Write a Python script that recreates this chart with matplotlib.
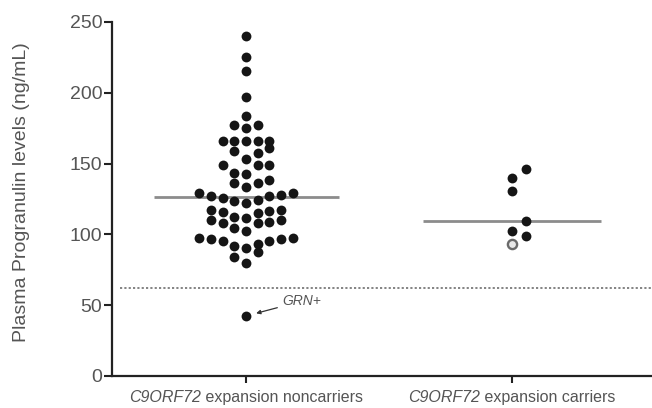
import numpy as np
import matplotlib
matplotlib.use('Agg')
import matplotlib.pyplot as plt
from matplotlib.offsetbox import TextArea, HPacker, AnnotationBbox

plt.rcParams['font.family'] = 'Liberation Sans'

# (italic gene name, rest of label)
group_labels = [('C9ORF72', ' expansion noncarriers'),
                ('C9ORF72', ' expansion carriers')]

# plasma progranulin, ng/mL
noncarriers = [42.4,
               80.0, 84.2, 87.5,
               90.2, 91.6, 93.2, 95.6, 95.6, 96.8, 96.8, 97.5, 97.5,
               102.5, 104.5, 108.0, 108.0, 108.5, 110.5, 110.5,
               111.4, 112.5, 114.9, 116.0, 116.5, 117.2, 117.2,
               122.5, 123.8, 124.5, 125.5, 127.0, 127.0, 127.5, 129.3, 129.3,
               133.8, 136.0, 136.0, 138.4,
               143.0, 143.7, 148.7, 148.7, 148.7,
               153.1, 157.3, 159.1, 161.2,
               166.0, 166.0, 166.0, 166.0, 166.0,
               175.0, 177.3, 177.3,
               183.6, 197.2, 215.6, 225.0, 240.0]
carriers = [99.1, 102.4, 109.5, 130.9, 139.6, 146.2]
carriers_open = [93.2]

cutoff = 62.0
grn_label = 'GRN+'

row_height = 8.4   # values closer than this share a row


def row_offsets(values):
    # prism-style column scatter: bin sorted values into rows, then spread
    # each row out from the centre (smallest value in the middle)
    values = np.asarray(values)
    order = np.argsort(values, kind='stable')
    vals = values[order]
    slot = np.zeros(len(vals))
    start = 0
    while start < len(vals):
        end = start
        while end < len(vals) and vals[end] - vals[start] < row_height:
            end += 1
        n = end - start
        lo = -((n - 1) // 2)
        centre = lo + (n - 1) / 2
        slots = sorted(range(lo, lo + n), key=lambda s: (abs(s - centre), s))
        slot[start:end] = slots
        start = end
    out = np.zeros(len(vals))
    out[order] = slot
    return out


fig = plt.figure(figsize=(6.52, 4.08), dpi=100)
ax = fig.add_axes([112/652, 32/408, 540/652, 354/408])

dot_color = '#151515'
steps = [0.044, 0.054]

# noncarriers
off = row_offsets(noncarriers) * steps[0]
ax.scatter(0 + off, noncarriers, s=50, color=dot_color, zorder=3, linewidths=0)
ax.hlines(np.median(noncarriers), -0.345, 0.35, color='#8c8c8c', lw=2.0, zorder=2)

# carriers (open symbol laid out together with the rest)
all_carriers = carriers + carriers_open
off = row_offsets(all_carriers) * steps[1]
nf = len(carriers)
ax.scatter(1 + off[:nf], carriers, s=50, color=dot_color, zorder=3, linewidths=0)
ax.scatter(1 + off[nf:], carriers_open, s=44, facecolor='#e8e8e8',
           edgecolor='#6a6a6a', linewidths=1.7, zorder=3)
ax.hlines(np.median(all_carriers), 1 - 0.335, 1 + 0.335, color='#8c8c8c', lw=2.0, zorder=2)

# cut-off line
ax.hlines(cutoff, -0.475, 1.526, color='#7a7a7a', lw=1.3,
          linestyles=(0, (1.2, 1.2)), zorder=1)

# GRN mutation carrier
low = min(noncarriers)
ax.annotate(grn_label, xy=(0, low), xytext=(0.138, low + 10.5),
            fontsize=10, style='italic', color='#555555', ha='left', va='center',
            arrowprops=dict(arrowstyle='-|>', color='#333333', lw=0.9,
                            mutation_scale=6, shrinkA=2, shrinkB=7.5))

ax.set_xlim(-0.504, 1.526)
ax.set_ylim(0, 250)
ax.set_yticks([0, 50, 100, 150, 200, 250])
ax.set_xticks([0, 1])
ax.set_xticklabels([])

# group labels with the gene name in italics
for i, (gene, rest) in enumerate(group_labels):
    parts = HPacker(children=[
        TextArea(gene, textprops=dict(style='italic', fontsize=11.5, color='#555555')),
        TextArea(rest, textprops=dict(fontsize=11.5, color='#555555'))],
        align='baseline', pad=0, sep=0)
    ab = AnnotationBbox(parts, (i, 0), xycoords=('data', 'axes fraction'),
                        xybox=(0, -10), boxcoords='offset points',
                        box_alignment=(0.5, 1.0), frameon=False)
    ax.add_artist(ab)

for side in ['top', 'right']:
    ax.spines[side].set_visible(False)
for side in ['left', 'bottom']:
    ax.spines[side].set_linewidth(1.6)
    ax.spines[side].set_color('#222222')

ax.tick_params(axis='y', length=6, width=1.5, pad=1, labelsize=14,
               color='#222222', labelcolor='#555555')
ax.tick_params(axis='x', length=5, width=1.5, color='#222222')

ax.set_ylabel('Plasma Progranulin levels (ng/mL)', fontsize=14, color='#555555', va='center')
ax.yaxis.set_label_coords(-0.167, 0.52)

fig.savefig('out.png', dpi=100)
